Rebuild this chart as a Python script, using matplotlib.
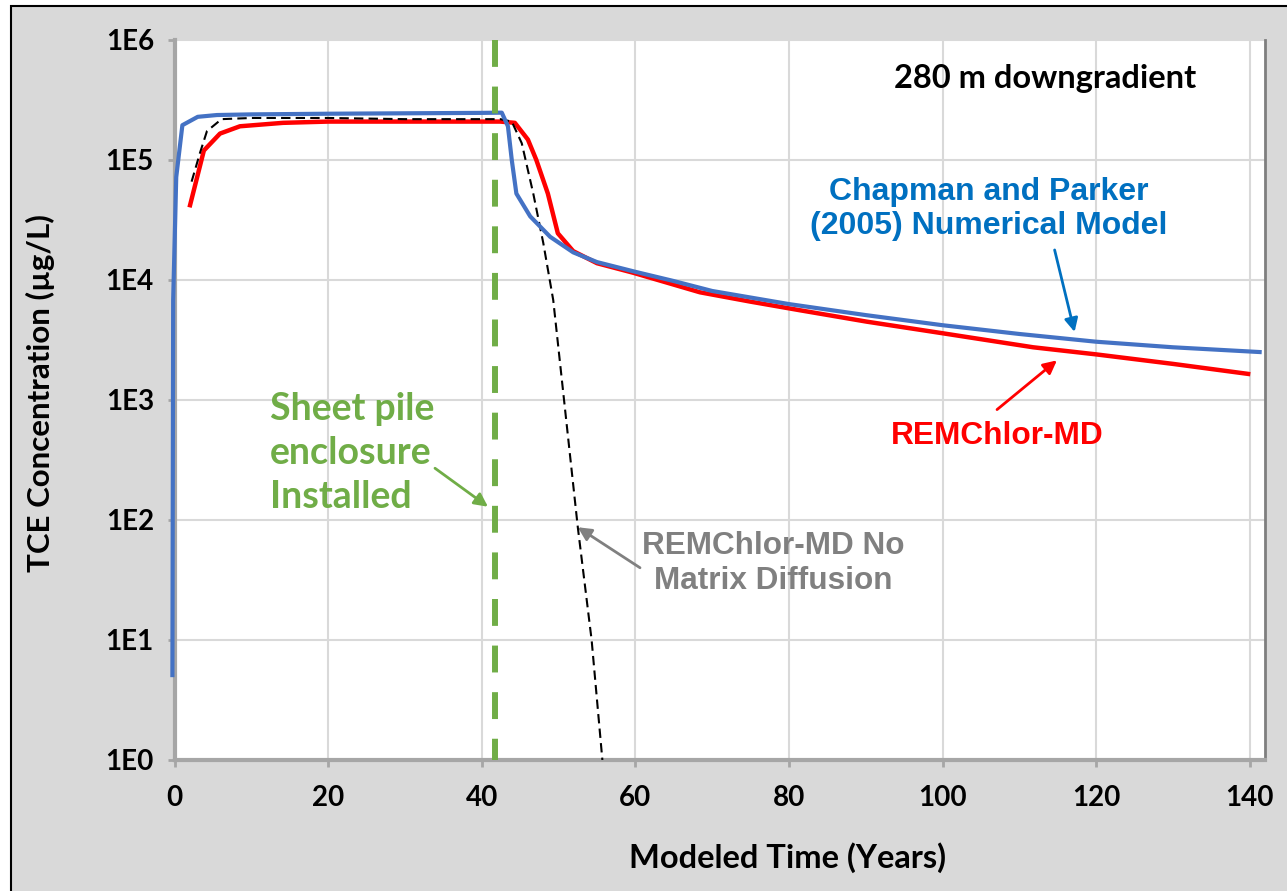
import matplotlib.pyplot as plt
from matplotlib.patches import Rectangle
from matplotlib.ticker import NullLocator

# Chapman and Parker (2005) numerical model
chapman_t = [-0.3, -0.2, 0.2, 1.0, 3.0, 5.5, 10, 20, 30, 40, 42.6, 43.4, 43.9, 44.5, 46.3,
             48.9, 51.9, 55, 60, 65, 70, 80, 90, 100, 110, 120, 130, 141.3]
chapman_c = [5.1, 6.8e3, 7.2e4, 1.95e5, 2.29e5, 2.37e5, 2.40e5, 2.43e5, 2.45e5, 2.47e5, 2.48e5,
             1.91e5, 1.0e5, 5.25e4, 3.39e4, 2.29e4, 1.70e4, 1.41e4, 1.17e4, 9.8e3, 8.1e3,
             6.3e3, 5.1e3, 4.2e3, 3.55e3, 3.06e3, 2.75e3, 2.51e3]

# REMChlor-MD
remchlor_t = [2.0, 3.8, 5.9, 8.5, 14.1, 20, 29.3, 42.4, 44.3, 46.0, 47.1, 48.6, 49.9, 51.9,
              55, 59.7, 68.4, 75, 81.4, 90.1, 100, 111.8, 120, 130, 139.8]
remchlor_c = [4.2e4, 1.20e5, 1.66e5, 1.91e5, 2.04e5, 2.09e5, 2.09e5, 2.09e5, 2.04e5, 1.48e5,
              1.0e5, 5.25e4, 2.45e4, 1.74e4, 1.38e4, 1.15e4, 7.9e3, 6.6e3, 5.6e3, 4.5e3,
              3.6e3, 2.75e3, 2.4e3, 2.0e3, 1.65e3]

# REMChlor-MD, no matrix diffusion
nomd_t = [2.2, 3.3, 4.2, 6.1, 10, 20, 30, 42.4, 43.9, 45.2, 46.7, 48.0, 49.3, 52.5, 54.3, 55.7]
nomd_c = [6.6e4, 1.15e5, 1.74e5, 2.19e5, 2.24e5, 2.24e5, 2.19e5, 2.19e5, 2.09e5, 1.38e5,
          5.25e4, 2.04e4, 6.8e3, 87, 10, 1.0]

sheet_pile_year = 41.7

x_ticks = [0, 20, 40, 60, 80, 100, 120, 140]
y_ticks = [1, 10, 100, 1e3, 1e4, 1e5, 1e6]
y_tick_labels = ['1E0', '1E1', '1E2', '1E3', '1E4', '1E5', '1E6']

W, H = 1287, 891
fig = plt.figure(figsize=(W / 100, H / 100), dpi=100)
fig.patch.set_facecolor('white')
# grey chart area with black border (cut off at right / bottom)
fig.patches.append(Rectangle((11 / W, -0.05), 1.1, 1.05 - 6 / H, transform=fig.transFigure,
                             facecolor='#d9d9d9', edgecolor='black', lw=1.5, zorder=-10))

ax = fig.add_axes([174.7 / W, 131 / H, (1265 - 174.7) / W, 720 / H])
ax.set_facecolor('white')

ax.plot(remchlor_t, remchlor_c, color='#ff0000', lw=3.2, zorder=3)
ax.plot(nomd_t, nomd_c, color='black', lw=1.5, dashes=(4.5, 2.5), zorder=4)
ax.plot(chapman_t, chapman_c, color='#4472c4', lw=3.0, zorder=5, clip_on=False)
ax.plot([sheet_pile_year, sheet_pile_year], [1e6, 1], color='#70ad47', lw=4.3,
        dashes=(4.5, 3.3), zorder=6)

ax.set_yscale('log')
ax.set_xlim(0, 142)
ax.set_ylim(1, 1e6)
ax.set_xticks(x_ticks)
ax.set_yticks(y_ticks)
ax.set_yticklabels(y_tick_labels)
ax.yaxis.set_minor_locator(NullLocator())
ax.grid(color='#d9d9d9', lw=1.5)
ax.set_axisbelow(True)

ax.spines['top'].set_visible(False)
for s in ['left', 'bottom']:
    ax.spines[s].set_color('#a6a6a6')
    ax.spines[s].set_linewidth(3)
ax.spines['right'].set_color('#7f7f7f')
ax.spines['right'].set_linewidth(2)

calibri = ['Lato', 'DejaVu Sans']
arial = ['Liberation Sans', 'DejaVu Sans']
ax.tick_params(axis='both', length=5, width=2, color='#a6a6a6', labelsize=20)
ax.tick_params(axis='x', pad=13)
ax.tick_params(axis='y', pad=10)
for lab in ax.get_xticklabels() + ax.get_yticklabels():
    lab.set_family(calibri)
    lab.set_fontweight('bold')

fig.text(40 / W, 1 - 393 / H, 'TCE Concentration (µg/L)', rotation=90, ha='center', va='center',
         fontsize=22.5, fontweight='bold', family=calibri)
fig.text(788 / W, 1 - 858 / H, 'Modeled Time (Years)', ha='center', va='center',
         fontsize=23.5, fontweight='bold', family=calibri)

ax.text(113.3, 4.8e5, '280 m downgradient', ha='center', va='center', fontsize=23.5,
        fontweight='bold', family=calibri, color='black')
ax.text(106.0, 3.9e4, 'Chapman and Parker\n(2005) Numerical Model', ha='center', va='center',
        fontsize=23, fontweight='bold', family=arial, color='#0070c0', linespacing=1.2)
ax.text(107.1, 500, 'REMChlor-MD', ha='center', va='center', fontsize=22.8,
        fontweight='bold', family=arial, color='#ff0000')
ax.text(77.9, 43.6, 'REMChlor-MD No\nMatrix Diffusion', ha='center', va='center', fontsize=22.7,
        fontweight='bold', family=arial, color='#808080', linespacing=1.2)
ax.text(12.4, 363, 'Sheet pile\nenclosure\nInstalled', ha='left', va='center', fontsize=27,
        fontweight='bold', family=calibri, color='#70ad47', linespacing=1.35)

arrow = dict(arrowstyle='-|>', lw=2, mutation_scale=20, shrinkA=0, shrinkB=0)
ax.annotate('', xy=(40.8, 129), xytext=(33.9, 270), arrowprops=dict(arrow, color='#70ad47'))
ax.annotate('', xy=(52.5, 87), xytext=(60.6, 40), arrowprops=dict(arrow, color='#808080'))
ax.annotate('', xy=(117.2, 3.69e3), xytext=(114.6, 1.78e4), arrowprops=dict(arrow, color='#0070c0'))
ax.annotate('', xy=(114.9, 2.14e3), xytext=(107.1, 832), arrowprops=dict(arrow, color='#ff0000'))

fig.savefig('out.png', dpi=100)
